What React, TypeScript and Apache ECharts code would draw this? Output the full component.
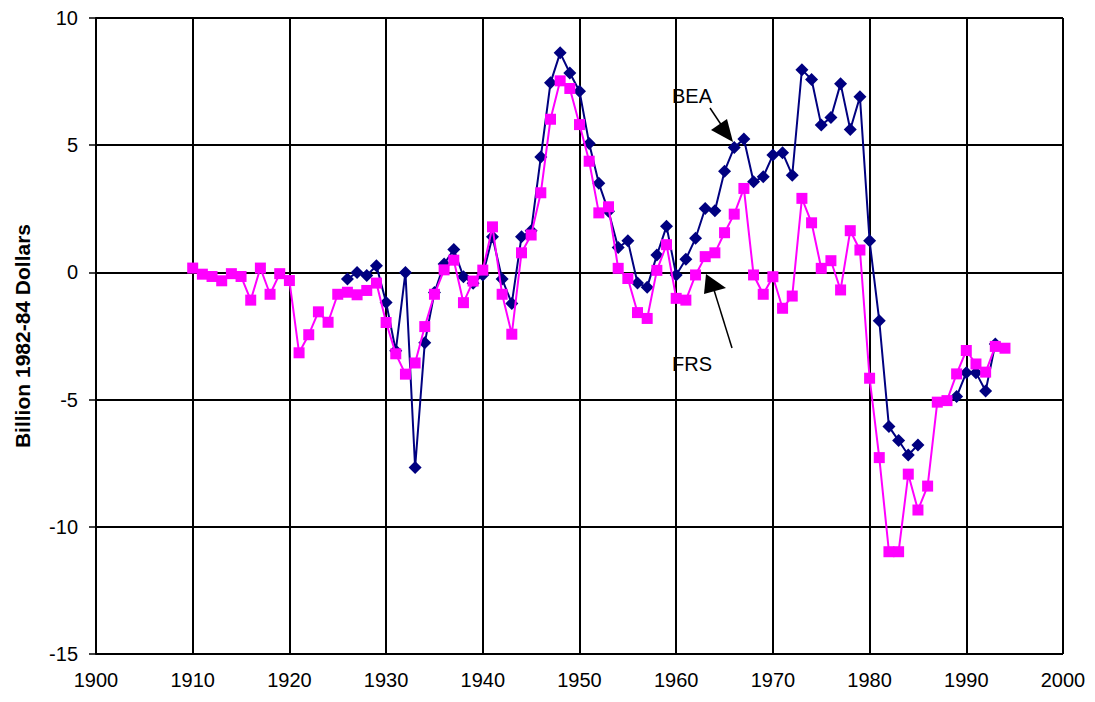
import React, { useEffect, useRef } from "react";
import * as echarts from "echarts";

const frsStartYear = 1910;
const frsValues: (number | null)[] = [
  0.17, -0.07, -0.16, -0.33, -0.05, -0.16, -1.09, 0.17, -0.86, -0.05,
  -0.32, -3.16, -2.45, -1.55, -1.96, -0.86, -0.78, -0.88, -0.71, -0.42,
  -1.97, -3.2, -4.0, -3.56, -2.13, -0.86, 0.1, 0.48, -1.19, -0.34,
  0.09, 1.79, -0.86, -2.43, 0.77, 1.47, 3.13, 6.02, 7.53, 7.23,
  5.81, 4.37, 2.34, 2.58, 0.16, -0.24, -1.58, -1.81, 0.08, 1.09,
  -1.02, -1.09, -0.1, 0.62, 0.77, 1.56, 2.29, 3.3, -0.1, -0.86,
  -0.17, -1.41, -0.93, 2.91, 1.95, 0.16, 0.46, -0.69, 1.64, 0.88,
  -4.16, -7.28, -10.98, -10.98, -7.93, -9.34, -8.4, -5.1, -5.04, -3.99,
  -3.07, -3.6, -3.92, -2.91, -2.98,
];

const beaStartYear = 1926;
const beaValues: (number | null)[] = [
  -0.26, 0.0, -0.12, 0.26,
  -1.18, -3.08, 0.0, -7.67, -2.77, -0.79, 0.33, 0.9, -0.17, -0.43,
  -0.1, 1.4, -0.26, -1.22, 1.4, 1.64, 4.54, 7.45, 8.63, 7.84,
  7.12, 5.07, 3.5, 2.4, 0.98, 1.24, -0.42, -0.58, 0.68, 1.81,
  -0.1, 0.52, 1.34, 2.51, 2.42, 3.98, 4.91, 5.24, 3.56, 3.76,
  4.61, 4.7, 3.82, 7.97, 7.58, 5.79, 6.09, 7.42, 5.62, 6.9,
  1.24, -1.9, -6.06, -6.61, -7.18, -6.78, null, null, null, -4.88,
  -3.94, -3.94, -4.66, -2.81,
];

const xMin = 1900;
const xMax = 2000;
const xStep = 10;
const yMin = -15;
const yMax = 10;
const yStep = 5;
const yAxisTitle = "Billion 1982-84 Dollars";
const beaLabel = "BEA";
const frsLabel = "FRS";

const FONT = "'Liberation Sans', Arial, sans-serif";

function toPairs(start: number, values: (number | null)[]) {
  return values.map((v, i) => [start + i, v]);
}

export default function App() {
  const ref = useRef<HTMLDivElement>(null);
  useEffect(() => {
    if (!ref.current) return;
    const chart = echarts.init(ref.current, null, { renderer: "svg" });
    chart.setOption({
      animation: false,
      backgroundColor: "#ffffff",
      grid: { left: 96, right: 32, top: 18, bottom: 48, containLabel: false },
      xAxis: {
        type: "value",
        min: xMin,
        max: xMax,
        interval: xStep,
        axisLine: { show: true, lineStyle: { color: "#000", width: 2 } },
        axisTick: { show: true, length: 7, lineStyle: { color: "#000", width: 1.5 } },
        splitLine: { show: true, lineStyle: { color: "#000", width: 2 } },
        axisLabel: {
          color: "#000",
          fontSize: 20,
          fontFamily: FONT,
          margin: 16,
          formatter: (v: number) => String(Math.round(v)),
        },
      },
      yAxis: {
        type: "value",
        min: yMin,
        max: yMax,
        interval: yStep,
        name: yAxisTitle,
        nameLocation: "middle",
        nameGap: 63,
        nameTextStyle: { color: "#000", fontSize: 21, fontWeight: "bold", fontFamily: FONT },
        axisLine: { show: true, lineStyle: { color: "#000", width: 2 } },
        axisTick: { show: true, length: 7, lineStyle: { color: "#000", width: 1.5 } },
        splitLine: { show: true, lineStyle: { color: "#000", width: 2 } },
        axisLabel: {
          color: "#000",
          fontSize: 20,
          fontFamily: FONT,
          margin: 18,
          formatter: (v: number) => String(Math.round(v)),
        },
      },
      series: [
        {
          name: beaLabel,
          type: "line",
          data: toPairs(beaStartYear, beaValues),
          connectNulls: false,
          symbol: "diamond",
          symbolSize: 13,
          lineStyle: { color: "#000080", width: 2 },
          itemStyle: { color: "#000080" },
          z: 3,
        },
        {
          name: frsLabel,
          type: "line",
          data: toPairs(frsStartYear, frsValues),
          symbol: "rect",
          symbolSize: 11,
          lineStyle: { color: "#ff00ff", width: 2 },
          itemStyle: { color: "#ff00ff" },
          z: 4,
        },
      ],
      graphic: [
        {
          type: "text",
          left: 672,
          top: 86,
          z: 10,
          style: { text: beaLabel, fontSize: 20, fontFamily: FONT, fill: "#000" },
        },
        {
          type: "line",
          z: 10,
          shape: { x1: 710, y1: 108, x2: 722, y2: 126 },
          style: { stroke: "#000", lineWidth: 1.5 },
        },
        {
          type: "polygon",
          z: 10,
          shape: { points: [[733, 142], [711, 130], [727, 119]] },
          style: { fill: "#000" },
        },
        {
          type: "text",
          left: 672,
          top: 354,
          z: 10,
          style: { text: frsLabel, fontSize: 20, fontFamily: FONT, fill: "#000" },
        },
        {
          type: "line",
          z: 10,
          shape: { x1: 732, y1: 348, x2: 714, y2: 290 },
          style: { stroke: "#000", lineWidth: 1.5 },
        },
        {
          type: "polygon",
          z: 10,
          shape: { points: [[706, 274], [704, 294], [726, 288]] },
          style: { fill: "#000" },
        },
      ],
    });
    return () => chart.dispose();
  }, []);
  return (
    <div
      ref={ref}
      style={{ position: "fixed", left: 0, top: 0, width: 1095, height: 702, background: "#fff" }}
    />
  );
}
